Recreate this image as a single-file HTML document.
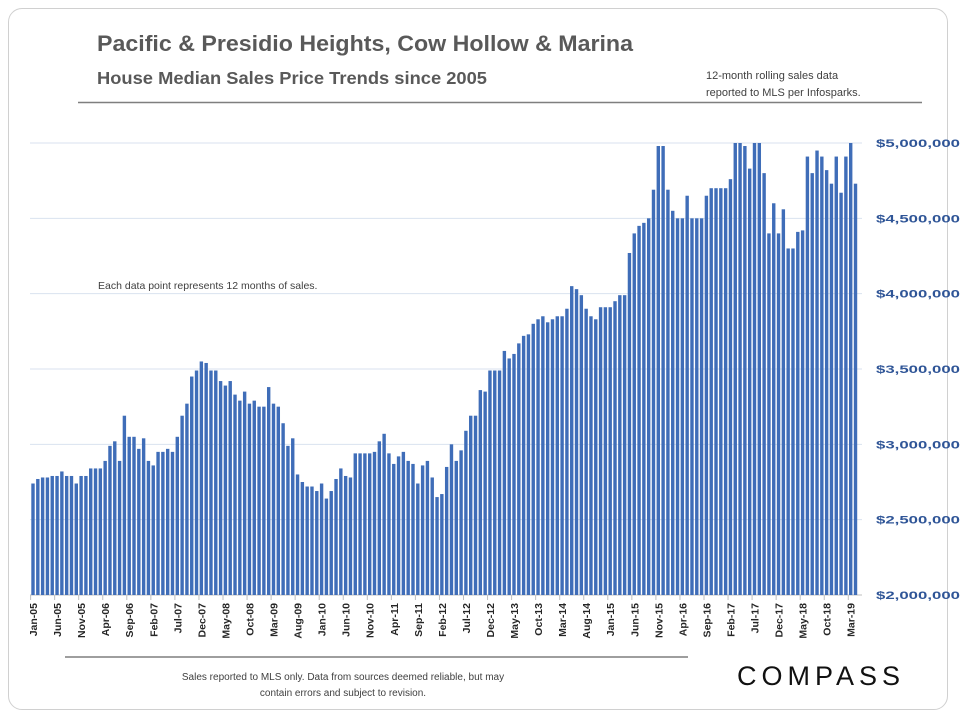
<!DOCTYPE html>
<html><head><meta charset="utf-8"><style>
body{margin:0;background:#fff;font-family:"Liberation Sans",Arial,sans-serif;}
#card{position:absolute;left:8px;top:8px;width:940px;height:702px;border:1.5px solid #d0d0d0;border-radius:14px;box-sizing:border-box;}
</style></head><body>
<div id="card"></div>
<svg id="chart" width="960" height="720" style="position:absolute;left:0;top:0">
<text x="97" y="51" font-size="22" font-weight="bold" fill="#595959" textLength="536" lengthAdjust="spacingAndGlyphs">Pacific &amp; Presidio Heights, Cow Hollow &amp; Marina</text>
<text x="97" y="84" font-size="17.5" font-weight="bold" fill="#595959" textLength="390" lengthAdjust="spacingAndGlyphs">House Median Sales Price Trends since 2005</text>
<text x="706" y="79" font-size="11" fill="#404040">12-month rolling sales data</text>
<text x="706" y="96" font-size="11" fill="#404040">reported to MLS per Infosparks.</text>
<line x1="78" y1="102.5" x2="922" y2="102.5" stroke="#7f7f7f" stroke-width="1.5"/>
<text x="98" y="289" font-size="10.5" fill="#404040">Each data point represents 12 months of sales.</text>
<g id="grid"></g><g id="bars"></g><g id="xlabels"></g><g id="ylabels"></g>
<line x1="65" y1="657" x2="688" y2="657" stroke="#7f7f7f" stroke-width="1.5"/>
<text x="343" y="680" font-size="10" fill="#404040" text-anchor="middle">Sales reported to MLS only. Data from sources deemed reliable, but may</text>
<text x="343" y="696" font-size="10" fill="#404040" text-anchor="middle">contain errors and subject to revision.</text>
<text x="821" y="685" font-size="27" fill="#111" text-anchor="middle" letter-spacing="5">COMPASS</text>
</svg>
<script>
const values=[2.74,2.77,2.78,2.78,2.79,2.79,2.82,2.79,2.79,2.74,2.79,2.79,2.84,2.84,2.84,2.89,2.99,3.02,2.89,3.19,3.05,3.05,2.97,3.04,2.89,2.86,2.95,2.95,2.97,2.95,3.05,3.19,3.27,3.45,3.49,3.55,3.54,3.49,3.49,3.42,3.39,3.42,3.33,3.29,3.35,
3.27,3.29,3.25,3.25,3.38,3.27,3.25,3.14,2.99,3.04,2.80,2.75,2.72,2.72,2.69,2.74,2.64,2.69,2.77,2.84,2.79,2.78,2.94,2.94,2.94,2.94,2.95,3.02,3.07,2.94,2.87,2.92,2.95,2.89,2.87,2.74,2.86,2.89,2.78,2.65,2.67,2.85,3.00,2.89,2.96,
3.09,3.19,3.19,3.36,3.35,3.49,3.49,3.49,3.62,3.57,3.60,3.67,3.72,3.73,3.80,3.83,3.85,3.81,3.83,3.85,3.85,3.90,4.05,4.03,3.99,3.90,3.85,3.83,3.91,3.91,3.91,3.95,3.99,3.99,
4.27,4.40,4.45,4.47,
4.50,4.69,4.98,4.98,4.69,4.55,4.50,4.50,4.65,4.50,4.50,4.50,4.65,4.70,4.70,4.70,4.70,4.76,5.0,5.0,4.98,4.83,5.0,5.0,4.80,4.40,4.60,4.40,4.56,4.30,4.30,4.41,4.42,4.91,4.80,4.95,4.91,4.82,4.73,4.91,4.67,4.91,5.0,4.73];
const tickLabels=["Jan-05","Jun-05","Nov-05","Apr-06","Sep-06","Feb-07","Jul-07","Dec-07","May-08","Oct-08","Mar-09","Aug-09","Jan-10","Jun-10","Nov-10","Apr-11","Sep-11","Feb-12","Jul-12","Dec-12","May-13","Oct-13","Mar-14","Aug-14","Jan-15","Jun-15","Nov-15","Apr-16","Sep-16","Feb-17","Jul-17","Dec-17","May-18","Oct-18","Mar-19"];
const yTicks=[2.0,2.5,3.0,3.5,4.0,4.5,5.0];
const yTickLabels=["$2,000,000","$2,500,000","$3,000,000","$3,500,000","$4,000,000","$4,500,000","$5,000,000"];
const NS="http://www.w3.org/2000/svg";
const x0=33,step=4.81,yBase=595,yTop=143,vMin=2.0,vMax=5.0;
function xPos(i){return x0+i*step;}
function yPos(v){return yBase-(v-vMin)/(vMax-vMin)*(yBase-yTop);}
function mk(t,a){const e=document.createElementNS(NS,t);for(const k in a)e.setAttribute(k,a[k]);return e;}
const grid=document.getElementById('grid'),bars=document.getElementById('bars'),xl=document.getElementById('xlabels'),yl=document.getElementById('ylabels');
yTicks.forEach((v,i)=>{
  const y=yPos(v);
  const l=mk('line',{x1:30,x2:862,y1:y,y2:y,stroke:i==0?'#bfbfbf':'#d9e2ef','stroke-width':1});
  
  
  grid.appendChild(l);
  const t=mk('text',{x:876,y:y+4,'font-size':11,'font-weight':'bold',fill:'#2f5597',textLength:84,lengthAdjust:'spacingAndGlyphs'});
  t.textContent=yTickLabels[i];
  
  
  yl.appendChild(t);
});
values.forEach((v,i)=>{
  const y=yPos(v);
  const r=mk('rect',{x:xPos(i)-1.7,y:y,width:3.4,height:yBase-y,fill:'#3f6db8'});
  
  
  bars.appendChild(r);
});
tickLabels.forEach((s,k)=>{
  const x=xPos(k*5);
  const tk=mk('line',{x1:x-2.4,x2:x-2.4,y1:yBase,y2:yBase+5,stroke:'#bfbfbf'});
  
  
  xl.appendChild(tk);
  const t=mk('text',{x:0,y:0,'font-size':10.5,'font-weight':'bold',fill:'#262626','text-anchor':'end',transform:`translate(${x+4},603) rotate(-90)`});
  t.textContent=s;
  
  
  xl.appendChild(t);
});
</script>
</body></html>
